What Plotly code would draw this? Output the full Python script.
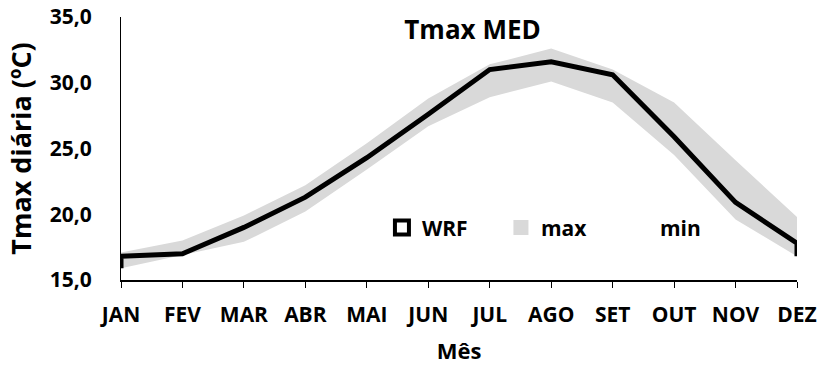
import plotly.graph_objects as go

# Monthly daily-maximum temperature (ºC), MED region
months = ["JAN", "FEV", "MAR", "ABR", "MAI", "JUN",
          "JUL", "AGO", "SET", "OUT", "NOV", "DEZ"]
wrf = [16.8, 17.0, 19.0, 21.3, 24.3, 27.6, 31.0, 31.6, 30.6, 25.9, 20.9, 17.8]
t_max = [17.1, 18.0, 19.9, 22.2, 25.4, 28.8, 31.4, 32.6, 31.0, 28.5, 24.1, 19.8]
t_min = [15.9, 16.9, 17.9, 20.2, 23.4, 26.7, 28.9, 30.1, 28.5, 24.5, 19.6, 16.8]

idx = list(range(len(months)))
FONT = "Open Sans"
GREY = "#d9d9d9"

fig = go.Figure()

# grey envelope between the min and max series
fig.add_trace(go.Scatter(x=idx, y=t_min, mode="lines", line=dict(width=0),
                         hoverinfo="skip", showlegend=False))
fig.add_trace(go.Scatter(x=idx, y=t_max, mode="lines", line=dict(width=0),
                         fill="tonexty", fillcolor=GREY, showlegend=False))

# WRF outline, closed down to the min series at both ends
fig.add_trace(go.Scatter(x=[idx[0]] + idx + [idx[-1]],
                         y=[t_min[0]] + wrf + [t_min[-1]],
                         mode="lines", line=dict(color="black", width=5),
                         showlegend=False))

# legend entries
fig.add_trace(go.Scatter(x=[None], y=[None], mode="markers", name="WRF",
                         marker=dict(symbol="square", size=14, color="white",
                                     line=dict(color="black", width=4))))
fig.add_trace(go.Scatter(x=[None], y=[None], mode="markers", name="max",
                         marker=dict(symbol="square", size=15, color=GREY,
                                     line=dict(width=0))))
fig.add_trace(go.Scatter(x=[None], y=[None], mode="markers", name="min",
                         marker=dict(symbol="square", size=15, color="white",
                                     line=dict(width=0))))

fig.update_layout(
    width=821, height=365,
    margin=dict(l=121, r=23.5, t=17, b=85),
    paper_bgcolor="white", plot_bgcolor="white",
    font=dict(family=FONT, color="black", size=21),
    title=dict(text="<b>Tmax MED</b>", x=0.52, xref="paper", xanchor="center",
               y=1 - 30 / 365, yref="container", yanchor="middle",
               font=dict(family=FONT, size=26, color="black")),
    legend=dict(orientation="h", traceorder="normal",
                x=0.386, xanchor="left", y=0.198,
                yanchor="middle", bgcolor="rgba(0,0,0,0)",
                font=dict(family=FONT, size=21, color="black", weight="bold"),
                entrywidth=74, entrywidthmode="pixels", itemwidth=30,
                tracegroupgap=0),
    xaxis=dict(range=[0, 11], tickvals=idx, ticktext=months,
               automargin=False,
               showgrid=False, zeroline=False,
               showline=True, linecolor="black", linewidth=2,
               ticks="outside", ticklen=6, tickwidth=1, tickcolor="black",
               ticklabelstandoff=9,
               tickfont=dict(family=FONT, size=21, color="black", weight="bold"),
               title=dict(text="<b>Mês</b>", standoff=17,
                          font=dict(family=FONT, size=22, color="black"))),
    yaxis=dict(range=[15, 35], tickvals=[15, 20, 25, 30, 35],
               ticktext=["15,0", "20,0", "25,0", "30,0", "35,0"],
               automargin=False,
               showgrid=False, zeroline=False,
               showline=True, linecolor="black", linewidth=1,
               ticks="", ticklabelstandoff=24,
               tickfont=dict(family=FONT, size=21, color="black", weight="bold"),
               title=dict(text="<b>Tmax diária (ºC)</b>", standoff=10,
                          font=dict(family=FONT, size=27, color="black"))),
)

fig.write_html("out.html")
